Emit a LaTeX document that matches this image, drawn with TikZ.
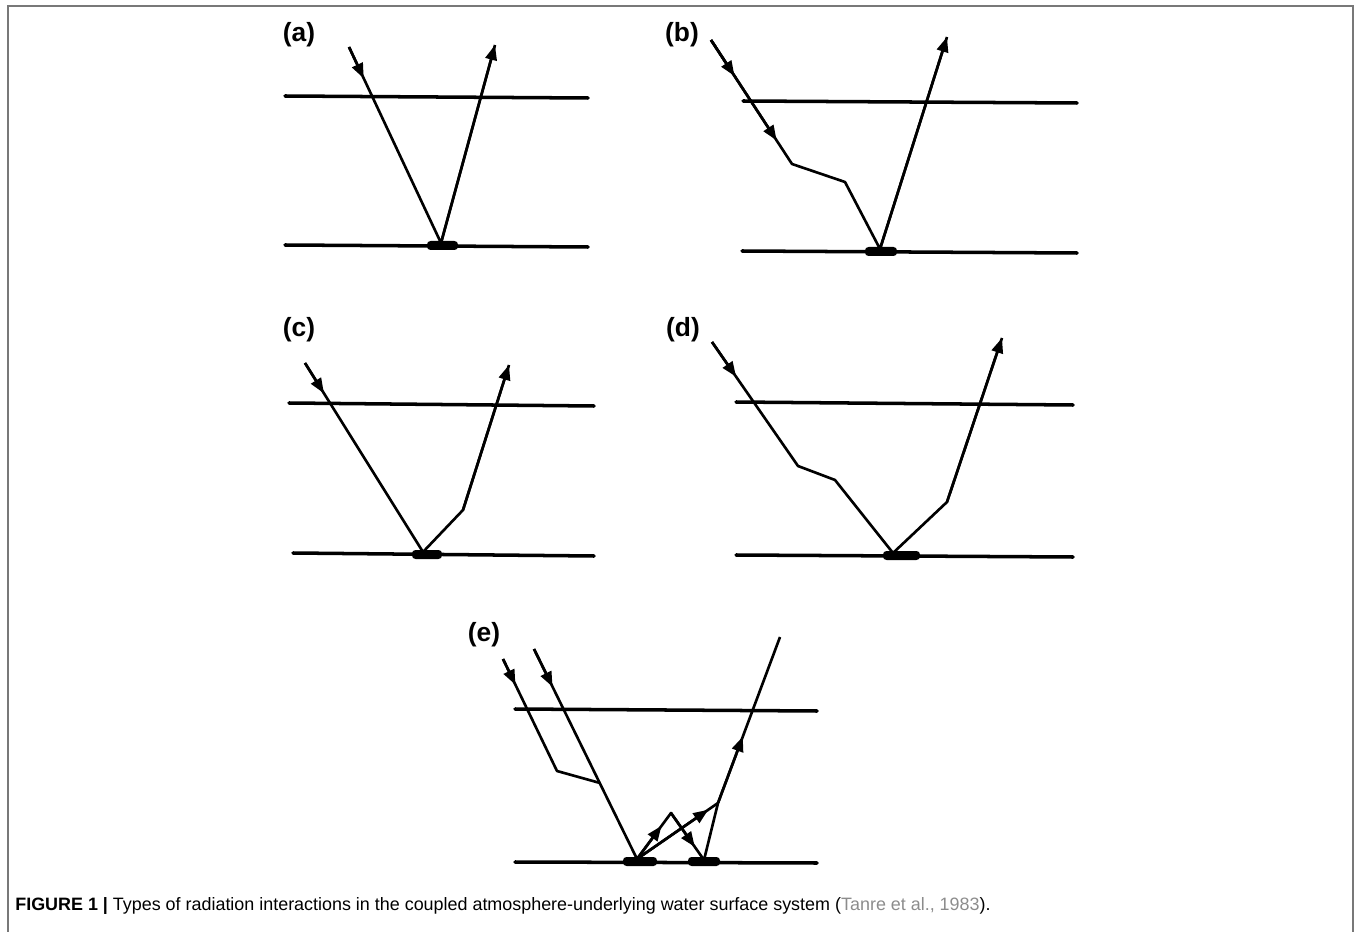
\documentclass[tikz,border=0pt]{standalone}
\usepackage{fontspec}
\setmainfont{Liberation Sans}
\usepackage{xcolor}
\usetikzlibrary{arrows.meta,calc}

\definecolor{framegray}{RGB}{120,120,120}
\definecolor{citegray}{RGB}{140,140,140}

\begin{document}
\begin{tikzpicture}[x=0.02cm, y=-0.02cm,
    layer/.style={line width=2pt, line cap=round},
    ray/.style={line width=1.5pt, line join=round},
    tip/.style={line width=1.5pt, -{Triangle[length=3mm, width=2.3mm]}},
    spot/.style={fill=black, rounded corners=2},
    panel/.style={font=\fontsize{15}{17}\selectfont\bfseries}]
    \useasboundingbox (0,0) rectangle (1356,932);

    % Frame round the figure, open at the foot.
    \draw[framegray, line width=0.9pt] (8,932) -- (8,6) -- (1353,6) -- (1353,932);

    % (a) direct path: straight down, straight back up.
    \node[panel] (la) at (299,35) {(a)};
    \draw[layer] (285,96) -- (588,98);
    \draw[layer] (285,245) -- (588,247);
    \fill[spot] (427,241) rectangle (458,250);
    \coordinate (a0) at (349,47);
    \coordinate (a1) at (441,243);
    \draw[ray] (a0) -- (a1) -- (495,45);
    \draw[tip] (a0) -- ($(a0)!0.16!(a1)$);
    \draw[tip] (a1) -- (495,45);

    % (b) scattered on the way down.
    \node[panel] (lb) at (682,35) {(b)};
    \draw[layer] (743,101) -- (1077,103);
    \draw[layer] (742,251) -- (1077,253);
    \fill[spot] (865,247) rectangle (897,256);
    \coordinate (b0) at (711,40);
    \coordinate (b1) at (792,164);
    \coordinate (b3) at (880,249);
    \draw[ray] (b0) -- (b1) -- (845,182) -- (b3) -- (947,37);
    \draw[tip] (b0) -- ($(b0)!0.29!(b1)$);
    \draw[tip] (b0) -- ($(b0)!0.81!(b1)$);
    \draw[tip] (b3) -- (947,37);

    % (c) scattered on the way up.
    \node[panel] (lc) at (299,330) {(c)};
    \draw[layer] (289,403) -- (594,406);
    \draw[layer] (293,553) -- (594,556);
    \fill[spot] (412,550) rectangle (442,559);
    \coordinate (c0) at (305,363);
    \coordinate (c1) at (423,552);
    \draw[ray] (c0) -- (c1) -- (463,510) -- (509,365);
    \draw[tip] (c0) -- ($(c0)!0.16!(c1)$);
    \draw[tip] (463,510) -- (509,365);

    % (d) scattered both ways.
    \node[panel] (ld) at (683,330) {(d)};
    \draw[layer] (736,402) -- (1073,405);
    \draw[layer] (736,555) -- (1073,557);
    \fill[spot] (883,551) rectangle (920,560);
    \coordinate (d0) at (712,342);
    \coordinate (d1) at (798,466);
    \draw[ray] (d0) -- (d1) -- (835,480) -- (893,553) -- (947,502) -- (1002,338);
    \draw[tip] (d0) -- ($(d0)!0.28!(d1)$);
    \draw[tip] (947,502) -- (1002,338);

    % (e) multiple reflections between surface and atmosphere.
    \node[panel] (le) at (484,635) {(e)};
    \draw[layer] (515,709) -- (817,711);
    \draw[layer] (515,862) -- (817,863);
    \fill[spot] (623,857) rectangle (657,866);
    \fill[spot] (688,857) rectangle (720,866);
    \coordinate (e0) at (503,659);
    \coordinate (e1) at (557,771);
    \coordinate (f0) at (534,649);
    \coordinate (f1) at (637,859);
    \coordinate (g0) at (671,813);
    \coordinate (g1) at (704,860);
    \coordinate (h0) at (718,803);
    \coordinate (h1) at (780,637);
    \draw[ray] (e0) -- (e1) -- (600,783);
    \draw[ray] (f0) -- (f1) -- (g0) -- (g1) -- (h0) -- (h1);
    \draw[ray] (f1) -- (h0);
    \draw[tip] (e0) -- ($(e0)!0.23!(e1)$);
    \draw[tip] (f0) -- ($(f0)!0.18!(f1)$);
    \draw[tip] (f1) -- ($(f1)!0.72!(g0)$);
    \draw[tip] (g0) -- ($(g0)!0.72!(g1)$);
    \draw[tip] (f1) -- ($(f1)!0.88!(h0)$);
    \draw[tip] (h0) -- ($(h0)!0.4!(h1)$);

    % Caption.
    \node[anchor=west, font=\fontsize{10.2}{12}\selectfont, inner sep=0pt] (cap) at (15,906)
    {\textbf{FIGURE 1 |} Types of radiation interactions in the coupled atmosphere-underlying water surface system (\textcolor{citegray}{Tanre et al., 1983}).};
\end{tikzpicture}
\end{document}
